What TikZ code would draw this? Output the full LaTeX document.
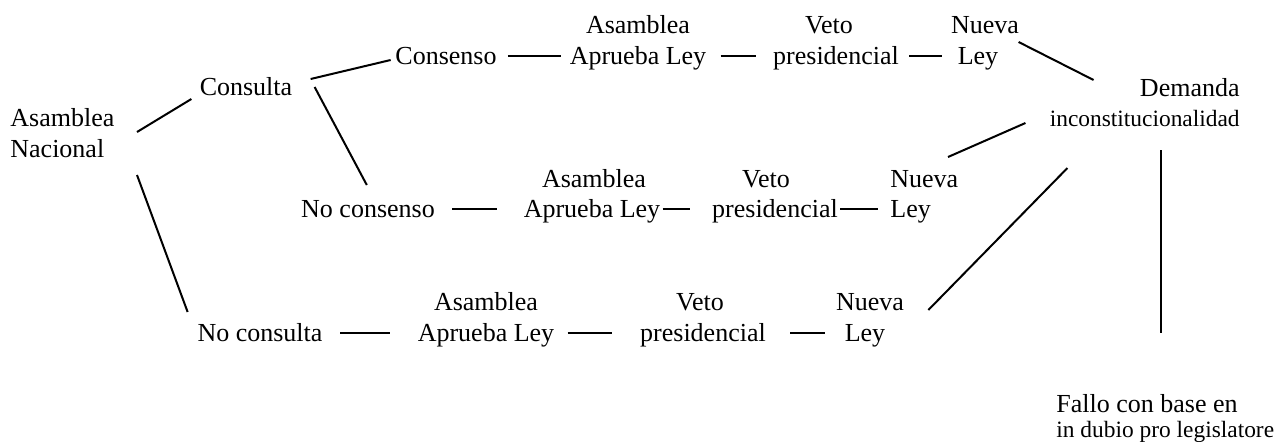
\documentclass[tikz,border=0pt]{standalone}
\usepackage{fontspec}
\setmainfont{Liberation Serif}
\usetikzlibrary{calc}
\begin{document}
\begin{tikzpicture}[x=0.5pt,y=-0.5pt,
  lbl/.style={font=\fontsize{13}{15.5}\selectfont, inner sep=0pt, anchor=base},
  lblw/.style={lbl, anchor=base west},
  sml/.style={font=\fontsize{11.7}{14}\selectfont, inner sep=0pt, anchor=base},
  conn/.style={line width=1pt}]
\useasboundingbox (0,0) rectangle (1275,441);
% left
\node[lblw] (an1) at (10,126) {Asamblea};
\node[lblw] (an2) at (10,157) {Nacional};
\node[lbl] (cons) at (246,95) {Consulta};
% row 1
\node[lbl] (cnso) at (446,64) {Consenso};
\node[lbl] (r1a) at (638,33) {Asamblea};
\node[lbl] (r1b) at (638,64) {Aprueba Ley};
\node[lbl] (r1c) at (829,33) {Veto};
\node[lbl] (r1d) at (836,64) {presidencial};
\node[lbl] (r1e) at (985,33) {Nueva};
\node[lbl] (r1f) at (978,64) {Ley};
% right
\node[lbl, anchor=base east] (dem) at (1240,96) {Demanda};
\node[sml, anchor=base east] (inc) at (1240,126) {inconstitucionalidad};
\node[lbl, anchor=base west] (fallo) at (1056,412) {Fallo con base en};
\node[sml, anchor=base west] (dubio) at (1056,437) {in dubio pro legislatore};
% row 2
\node[lbl] (ncs) at (368,217) {No consenso};
\node[lbl] (r2a) at (594,187) {Asamblea};
\node[lbl] (r2b) at (592,217) {Aprueba Ley};
\node[lbl] (r2c) at (766,187) {Veto};
\node[lbl] (r2d) at (775,217) {presidencial};
\node[lblw] (r2e) at (890,187) {Nueva};
\node[lblw] (r2f) at (890,217) {Ley};
% row 3
\node[lbl] (ncl) at (260,341) {No consulta};
\node[lbl] (r3a) at (486,310) {Asamblea};
\node[lbl] (r3b) at (486,341) {Aprueba Ley};
\node[lbl] (r3c) at (700,310) {Veto};
\node[lbl] (r3d) at (703,341) {presidencial};
\node[lbl] (r3e) at (870,310) {Nueva};
\node[lbl] (r3f) at (865,341) {Ley};
% connectors
\draw[conn] ($(an1.base west)+(127,6)$) -- ($(cons.base west)+(-8,4)$);
\draw[conn] ($(an2.base west)+(127,18)$) -- ($(ncl.base west)+(-9.5,-29)$);
\draw[conn] ($(cons.base east)+(18,-16)$) -- ($(cnso.base west)+(-4.4,-4)$);
\draw[conn] ($(cons.base east)+(22,-8)$) -- ($(ncs.base west)+(66,-32)$);
\draw[conn] ($(cnso.base east)+(11,-8)$) -- ($(r1b.base west)+(-8,-8)$);
\draw[conn] ($(r1b.base east)+(14,-8)$) -- ($(r1d.base west)+(-17,-8)$);
\draw[conn] ($(r1d.base east)+(10,-8)$) -- ($(r1f.base west)+(-15,-8)$);
\draw[conn] ($(r1f.base east)+(20,-22)$) -- ($(dem.base west)+(-46,-16)$);
\draw[conn] ($(inc.base west)+(-24,-3)$) -- ($(r2e.base west)+(58,-30)$);
\draw[conn] ($(inc.base west)+(18,42)$) -- ($(r3e.base east)+(24,0)$);
\coordinate (vx) at (1161,0);
\coordinate (vt) at ($(inc.base west)+(111,24)$);
\coordinate (vb) at ($(fallo.base west)+(105,-79)$);
\draw[conn] (vx |- vt) -- (vx |- vb);
\draw[conn] ($(ncs.base east)+(17,-8)$) -- ($(r2b.base west)+(-26,-8)$);
\draw[conn] ($(r2b.base east)+(2,-8)$) -- ($(r2d.base west)+(-22,-8)$);
\draw[conn] ($(r2d.base east)+(2,-8)$) -- ($(r2f.base west)+(-12,-8)$);
\draw[conn] ($(ncl.base east)+(17.5,-8)$) -- ($(r3b.base west)+(-27,-8)$);
\draw[conn] ($(r3b.base east)+(13,-8)$) -- ($(r3d.base west)+(-28,-8)$);
\draw[conn] ($(r3d.base east)+(24,-8)$) -- ($(r3f.base west)+(-19,-8)$);
\end{tikzpicture}
\end{document}
